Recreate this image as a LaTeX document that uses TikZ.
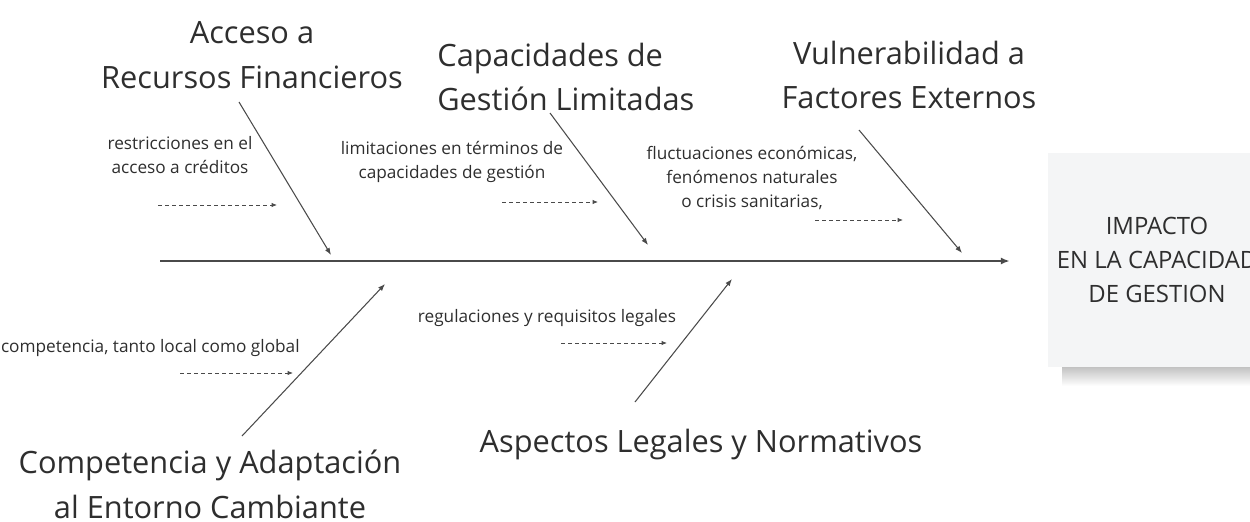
\documentclass[tikz,border=0pt]{standalone}
\usepackage{fontspec}
\setmainfont{Open Sans}
\usetikzlibrary{arrows.meta, positioning, calc}

\definecolor{inkgray}{HTML}{2E2E2E}
\definecolor{linegray}{HTML}{4A4A4A}
\definecolor{cardgray}{HTML}{F4F5F6}

\tikzset{
    cause/.style={text=inkgray, align=center, inner sep=0pt, font=\fontsize{17.5}{25.5}\selectfont},
    detail/.style={text=inkgray, align=center, inner sep=0pt, font=\fontsize{9.8}{13.5}\selectfont},
    bone/.style={draw=linegray, line width=0.6pt, -{Latex[length=4pt,width=3pt]}},
    spine/.style={draw=linegray, line width=1.1pt, -{Latex[length=5pt,width=4pt]}},
    hint/.style={draw=linegray, line width=0.5pt, dash pattern=on 2.2pt off 1.8pt, -{Latex[length=3pt,width=2.5pt]}},
}

\begin{document}
\begin{tikzpicture}[x=0.02cm, y=-0.02cm]
    \useasboundingbox (0,0) rectangle (1250,521);

    % Effect card with its shadow
    \shade[top color=black!30, bottom color=white]
        (1062,362) rectangle (1250,386);
    \node[rectangle, fill=cardgray, minimum width=4.36cm, minimum height=4.28cm, inner sep=0pt,
        text=inkgray, align=center, font=\fontsize{13.6}{19.5}\selectfont]
        (impacto) at (1157,260) {IMPACTO\\EN LA CAPACIDAD\\DE GESTION};

    % Spine
    \coordinate (tail) at (160,261);
    \draw[spine, shorten >=0.76cm] (tail) -- (tail -| impacto.west);

    % Causes
    \node[cause] (acceso) at (252,55) {Acceso a\\Recursos Financieros};
    \node[cause, align=left, anchor=west] (gestion) at (437,77) {Capacidades de\\Gestión Limitadas};
    \node[cause] (vulnera) at (909,75) {Vulnerabilidad a\\Factores Externos};
    \node[cause] (compet) at (210,484) {Competencia y Adaptación\\al Entorno Cambiante};
    \node[cause] (legal) at (701,445) {Aspectos Legales y Normativos};

    % Bones
    \foreach \n/\xa/\ya/\xb/\yb in {acceso/239/102/331/255, gestion/550/113/648/245,
        vulnera/859/130/962/253, compet/242/436/385/284, legal/635/402/732/279} {
        \coordinate (\n-from) at (\xa,\ya);
        \coordinate (\n-to) at (\xb,\yb);
        \draw[bone] (\n-from) -- (\n-to);
    }

    % Sub-causes
    \node[detail] (credito) at (180,155) {restricciones en el\\acceso a créditos};
    \node[detail] (limites) at (452,162) {limitaciones en términos de\\capacidades de gestión};
    \node[detail] (fluct) at (752,178) {fluctuaciones económicas,\\fenómenos naturales\\o crisis sanitarias,};
    \node[detail, anchor=east] (local) at (300,348) {competencia, tanto local como global};
    \node[detail] (normas) at (547,318) {regulaciones y requisitos legales};

    % Dashed hints
    \foreach \n/\xa/\xb/\y in {credito/158/277/205, limites/502/598/202, fluct/815/903/220,
        local/180/293/373, normas/561/667/343} {
        \coordinate (\n-a) at (\xa,\y);
        \coordinate (\n-b) at (\xb,\y);
        \draw[hint] (\n-a) -- (\n-b);
    }
\end{tikzpicture}
\end{document}
